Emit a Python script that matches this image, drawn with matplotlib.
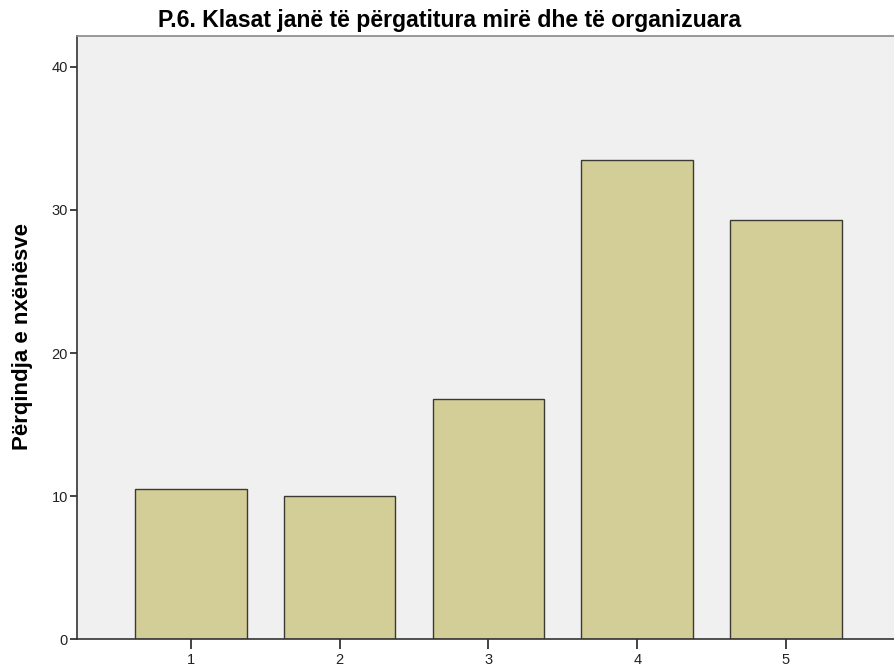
import matplotlib

matplotlib.use("Agg")
import matplotlib.pyplot as plt

# Response categories and share of students (%)
categories = ["1", "2", "3", "4", "5"]
percent = [10.5, 10.0, 16.8, 33.5, 29.3]

title = "P.6. Klasat janë të përgatitura mirë dhe të organizuara"
ylabel = "Përqindja e nxënësve"

plt.rcParams["font.family"] = ["Liberation Sans", "DejaVu Sans"]

fig = plt.figure(figsize=(8.94, 6.70), dpi=100)
ax = fig.add_axes([0.0861, 0.0458, 0.9139, 0.9004])
ax.set_facecolor("#F0F0F0")

x = list(range(1, len(categories) + 1))
ax.bar(x, percent, width=0.75, color="#D3CE97", edgecolor="#3A3A32", linewidth=1.0, zorder=2)

ax.set_xlim(0.234, 5.726)
ax.set_ylim(0, 42.15)
ax.set_xticks(x, categories)
ax.set_yticks([0, 10, 20, 30, 40])

ax.tick_params(axis="both", direction="out", width=1.2, color="#222222",
               labelsize=10.5, labelcolor="#222222")
ax.tick_params(axis="y", length=5, pad=1.5)
ax.tick_params(axis="x", length=7, pad=3)

ax.spines["right"].set_visible(False)
ax.spines["top"].set_color("#888888")
ax.spines["top"].set_linewidth(1.2)
for side in ("left", "bottom"):
    ax.spines[side].set_color("#333333")
    ax.spines[side].set_linewidth(1.2)

fig.text(22.5 / 894, 1 - 337 / 670, ylabel, rotation=90, ha="center", va="center",
         fontsize=16, fontweight="bold")
fig.text(449.5 / 894, 1 - 27.5 / 670, title, ha="center", va="baseline",
         fontsize=16.6, fontweight="bold")

fig.savefig("out.png", dpi=100)
plt.close(fig)
